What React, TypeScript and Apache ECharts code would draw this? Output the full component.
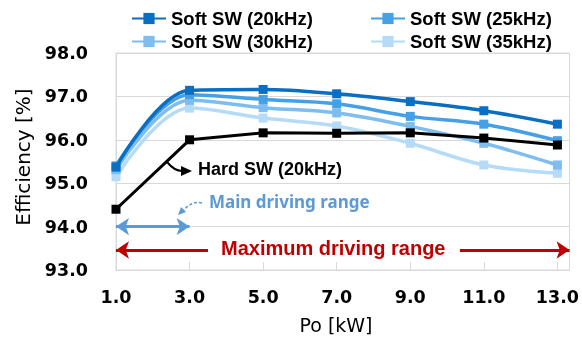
import React, { useEffect, useRef } from "react";
import * as echarts from "echarts";

const xValues = [1, 3, 5, 7, 9, 11, 13];
const soft20 = [95.37, 97.14, 97.16, 97.06, 96.88, 96.67, 96.36];
const soft25 = [95.4, 97.04, 96.93, 96.83, 96.54, 96.36, 95.98];
const soft30 = [95.31, 96.91, 96.74, 96.62, 96.31, 95.92, 95.42];
const soft35 = [95.15, 96.73, 96.5, 96.32, 95.92, 95.42, 95.23];
const hard20 = [94.4, 96.0, 96.16, 96.15, 96.16, 96.04, 95.88];

const seriesNames = ["Soft SW (20kHz)", "Soft SW (25kHz)", "Soft SW (30kHz)", "Soft SW (35kHz)"];
const seriesColors = ["#0A6FC2", "#45A0E6", "#7DBDF0", "#B5DBF7"];
const hardName = "Hard SW (20kHz)";

const pair = (ys: number[]) => xValues.map((x, i) => [x, ys[i]]);

export default function App() {
  const ref = useRef<HTMLDivElement>(null);
  useEffect(() => {
    if (!ref.current) return;
    const chart = echarts.init(ref.current, null, { renderer: "svg" });
    const softData = [soft20, soft25, soft30, soft35];
    const legendPos = [
      { left: 131, top: 9 },
      { left: 370, top: 9 },
      { left: 131, top: 32 },
      { left: 370, top: 32 },
    ];
    const softSeries = softData.map((d, i) => ({
      name: seriesNames[i],
      type: "line",
      data: pair(d),
      smooth: 0.35,
      symbol: "rect",
      symbolSize: 9,
      z: 10 - i,
      lineStyle: { color: seriesColors[i], width: 3.5 },
      itemStyle: { color: seriesColors[i] },
    }));
    const tickFont = { fontFamily: "DejaVu Sans", fontWeight: "bold", fontSize: 17.5, color: "#000" };
    const option: any = {
      animation: false,
      grid: { left: 116, right: 12, top: 53, bottom: 68, show: true, borderColor: "#D9D9D9", borderWidth: 1 },
      legend: softSeries.map((s, i) => ({
        data: [s.name],
        left: legendPos[i].left,
        top: legendPos[i].top,
        padding: 0,
        itemWidth: 34,
        itemHeight: 14,
        itemGap: 4,
        textStyle: { fontFamily: "Liberation Sans", fontWeight: "bold", fontSize: 18.5, color: "#000" },
        selectedMode: false,
      })),
      xAxis: {
        type: "value",
        min: 1,
        max: 13.33,
        interval: 2,
        axisLine: { show: true, lineStyle: { color: "#D9D9D9" } },
        axisTick: { show: true, inside: true, length: 8, lineStyle: { color: "#D9D9D9" } },
        splitLine: { show: false },
        axisLabel: {
          margin: 18,
          showMaxLabel: false,
          formatter: (v: number) => (Math.abs(v - Math.round(v)) < 1e-6 && Math.round(v) % 2 === 1 ? v.toFixed(1) : ""),
          ...tickFont,
        },
      },
      yAxis: {
        type: "value",
        min: 93,
        max: 98,
        interval: 1,
        axisLine: { show: true, lineStyle: { color: "#D9D9D9" } },
        axisTick: { show: false },
        splitLine: { lineStyle: { color: "#D9D9D9" } },
        axisLabel: {
          margin: 28,
          formatter: (v: number) => v.toFixed(1),
          ...tickFont,
        },
      },
      series: [
        ...softSeries.slice().reverse(),
        {
          name: hardName,
          type: "line",
          data: pair(hard20),
          symbol: "rect",
          symbolSize: 9,
          z: 20,
          lineStyle: { color: "#000", width: 3 },
          itemStyle: { color: "#000" },
          markLine: {
            silent: true,
            label: { show: false },
            symbolSize: [13, 13],
            data: [
              [
                { coord: [1, 94.0], symbol: "arrow", lineStyle: { color: "#5B9BD5", width: 3, type: "solid" } },
                { coord: [3, 94.0], symbol: "arrow" },
              ],
              [
                { coord: [1, 93.46], symbol: "arrow", lineStyle: { color: "#C00000", width: 3, type: "solid" } },
                { coord: [3.5, 93.46], symbol: "none" },
              ],
              [
                { coord: [10.35, 93.46], symbol: "none", lineStyle: { color: "#C00000", width: 3, type: "solid" } },
                { coord: [13.33, 93.46], symbol: "arrow" },
              ],
            ],
          },
        },
      ],
      graphic: [
        {
          type: "text",
          x: 23,
          y: 157,
          rotation: Math.PI / 2,
          style: { text: "Efficiency [%]", font: '20px "DejaVu Sans"', fill: "#000", align: "center", verticalAlign: "middle" },
        },
        {
          type: "text",
          x: 336,
          y: 325,
          style: { text: "Po [kW]", font: '19px "DejaVu Sans"', fill: "#000", align: "center", verticalAlign: "middle" },
        },
        {
          type: "text",
          left: 198,
          top: 160,
          style: { text: hardName, font: 'bold 18px "Liberation Sans"', fill: "#000" },
        },
        {
          type: "bezierCurve",
          shape: { x1: 167, y1: 162, x2: 182, y2: 171, cpx1: 172, cpy1: 168, cpx2: 176, cpy2: 171 },
          style: { stroke: "#000", lineWidth: 2, fill: null },
        },
        {
          type: "polygon",
          shape: { points: [[192, 171], [181, 166], [181, 176]] },
          style: { fill: "#000" },
        },
        {
          type: "text",
          left: 209,
          top: 193,
          style: { text: "Main driving range", font: 'bold 17px "Noto Sans"', fill: "#5B9BD5" },
        },
        {
          type: "bezierCurve",
          shape: { x1: 202, y1: 203, x2: 183, y2: 211, cpx1: 193, cpy1: 201, cpx2: 187, cpy2: 206 },
          style: { stroke: "#5B9BD5", lineWidth: 1.5, lineDash: [3, 2], fill: null },
        },
        {
          type: "polygon",
          shape: { points: [[178, 215], [181, 207], [186, 212]] },
          style: { fill: "#5B9BD5" },
        },
        {
          type: "text",
          left: 221,
          top: 238,
          style: { text: "Maximum driving range", font: 'bold 20px "Liberation Sans"', fill: "#C00000" },
        },
      ],
    };
    chart.setOption(option);
    return () => chart.dispose();
  }, []);
  return <div ref={ref} style={{ position: "fixed", left: 0, top: 0, width: 582, height: 338 }} />;
}
